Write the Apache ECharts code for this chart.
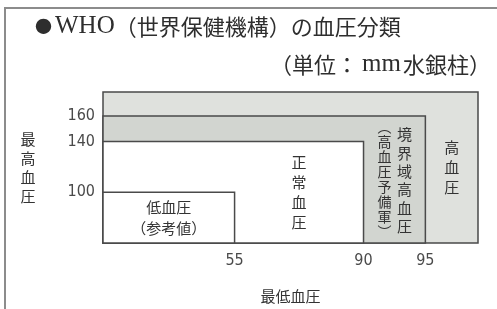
<!DOCTYPE html>
<html><head><meta charset="utf-8">
<script src="https://cdn.jsdelivr.net/npm/echarts@6/dist/echarts.min.js"></script>
<style>html,body{margin:0;padding:0;background:#fff}#c{width:497px;height:309px}</style>
</head><body><div id="c"></div>
<script>
// ---- data ----
const categories = ['高血圧', '境界域高血圧', '正常血圧', '低血圧'];
const notes = ['', '高血圧予備軍', '', '参考値'];
const diastolicUpper = [null, 95, 90, 55];    // 最低血圧 upper bound (mmHg), null = open
const systolicUpper = [null, 160, 140, 100];  // 最高血圧 upper bound (mmHg), null = open
const xTickValues = [55, 90, 95];
const yTickValues = [100, 140, 160];

// ---- layout: schematic (not to scale) diastolic axis, piecewise ----
const X_DOMAIN = [40, 55, 90, 95, 100];
const X_RANGE = [0, 10, 19.8, 24.5, 28.5];
function piece(v, a, b) {
  for (let i = 1; i < a.length; i++) {
    if (v <= a[i] || i === a.length - 1) {
      const t = (v - a[i - 1]) / (a[i] - a[i - 1]);
      return b[i - 1] + t * (b[i] - b[i - 1]);
    }
  }
}
const toX = v => piece(v, X_DOMAIN, X_RANGE);
const fromX = p => piece(p, X_RANGE, X_DOMAIN);
const X_MIN = X_RANGE[0], X_MAX = X_RANGE[X_RANGE.length - 1];
const Y_MIN = 60, Y_MAX = 179;

// ---- styles ----
const fills = ['#dfe1dd', '#d2d5d0', '#ffffff', '#ffffff'];
const stroke = '#4a4a4a';
const txt = '#333333';
const cjk = "'Noto Sans CJK JP', sans-serif";
const serif = "'Liberation Serif', 'DejaVu Serif', serif";
const num = "'Liberation Sans Narrow', 'DejaVu Sans Condensed', 'Liberation Sans', sans-serif";

const vert = s => s.replace(/（/g, '︵').replace(/）/g, '︶').split('').join('\n');

const seriesData = categories.map((c, i) => {
  const inner = i + 1 < categories.length ? diastolicUpper[i + 1] : null;
  return {
    name: c,
    value: [
      diastolicUpper[i] == null ? X_MAX : toX(diastolicUpper[i]),
      systolicUpper[i] == null ? Y_MAX : systolicUpper[i],
      inner == null ? X_MIN : toX(inner)
    ]
  };
});

function renderItem(params, api) {
  const i = params.dataIndex;
  const p0 = api.coord([X_MIN, Y_MIN]);
  const p1 = api.coord([api.value(0), api.value(1)]);
  const pin = api.coord([api.value(2), Y_MIN]);
  const lx = (pin[0] + p1[0]) / 2;
  const ly = (p0[1] + p1[1]) / 2;
  const children = [{
    type: 'rect',
    shape: { x: p0[0], y: p1[1], width: p1[0] - p0[0], height: p0[1] - p1[1] },
    style: { fill: fills[i], stroke: stroke, lineWidth: 1.5 }
  }];
  const name = categories[i], note = notes[i];
  const base = { fill: txt, fontFamily: cjk, align: 'center', verticalAlign: 'middle' };
  if (i === categories.length - 1) {
    children.push({ type: 'text', style: Object.assign({}, base, {
      x: lx, y: ly, text: name + '\n（' + note + '）', fontSize: 15, lineHeight: 21 }) });
  } else if (note) {
    children.push({ type: 'text', style: Object.assign({}, base, {
      x: lx + 10, y: ly + 1, text: vert(name), fontSize: 15, lineHeight: 18.4 }) });
    children.push({ type: 'text', style: Object.assign({}, base, {
      x: lx - 10, y: ly, text: vert('（' + note + '）'), fontSize: 14, lineHeight: 15 }) });
  } else {
    children.push({ type: 'text', style: Object.assign({}, base, {
      x: lx, y: ly, text: vert(name), fontSize: 15, lineHeight: 20 }) });
  }
  return { type: 'group', children };
}

const titleRich = {
  dot: { fontFamily: cjk, fontSize: 17, color: '#2e2e2e', padding: [0, 3, 0, 0] },
  lat: { fontFamily: serif, fontSize: 25, color: '#2e2e2e' },
  mm: { fontFamily: serif, fontSize: 25, color: '#2e2e2e', padding: [0, 2, 0, 4] }
};

const chart = echarts.init(document.getElementById('c'), null, { renderer: 'canvas' });
chart.setOption({
  backgroundColor: '#ffffff',
  animation: false,
  title: [
    { text: '{dot|●}{lat|WHO}（世界保健機構）の血圧分類', left: 30, top: 9,
      textStyle: { fontSize: 22, fontWeight: 'normal', color: '#2e2e2e', fontFamily: cjk, rich: titleRich } },
    { text: '（単位：{mm|mm}水銀柱）', right: 1, top: 47,
      textStyle: { fontSize: 22, fontWeight: 'normal', color: '#2e2e2e', fontFamily: cjk, rich: titleRich } }
  ],
  graphic: [
    { type: 'line', shape: { x1: 4, y1: 8, x2: 497, y2: 8 }, style: { stroke: '#8c8c8c', lineWidth: 2 } },
    { type: 'line', shape: { x1: 5, y1: 8, x2: 5, y2: 309 }, style: { stroke: '#8c8c8c', lineWidth: 2 } }
  ],
  grid: { left: 103, right: 19, top: 92, bottom: 66 },
  xAxis: {
    type: 'value', min: X_MIN, max: X_MAX,
    name: '最低血圧', nameLocation: 'middle', nameGap: 46,
    nameTextStyle: { fontSize: 15, color: txt, fontFamily: cjk },
    axisLine: { show: false }, axisTick: { show: false }, splitLine: { show: false },
    axisLabel: {
      customValues: xTickValues.map(toX),
      formatter: v => String(Math.round(fromX(v))),
      fontSize: 16, color: '#4a4a4a', fontFamily: num, margin: 10
    }
  },
  yAxis: {
    type: 'value', min: Y_MIN, max: Y_MAX,
    name: '最\n高\n血\n圧', nameLocation: 'middle', nameGap: 75, nameRotate: 0,
    nameTextStyle: { fontSize: 15, color: txt, fontFamily: cjk, lineHeight: 19, align: 'center', verticalAlign: 'middle' },
    axisLine: { show: false }, axisTick: { show: false }, splitLine: { show: false },
    axisLabel: {
      customValues: yTickValues,
      fontSize: 16, color: '#4a4a4a', fontFamily: num, margin: 8
    }
  },
  series: [{
    type: 'custom', renderItem, data: seriesData, clip: false
  }]
});
</script></body></html>
